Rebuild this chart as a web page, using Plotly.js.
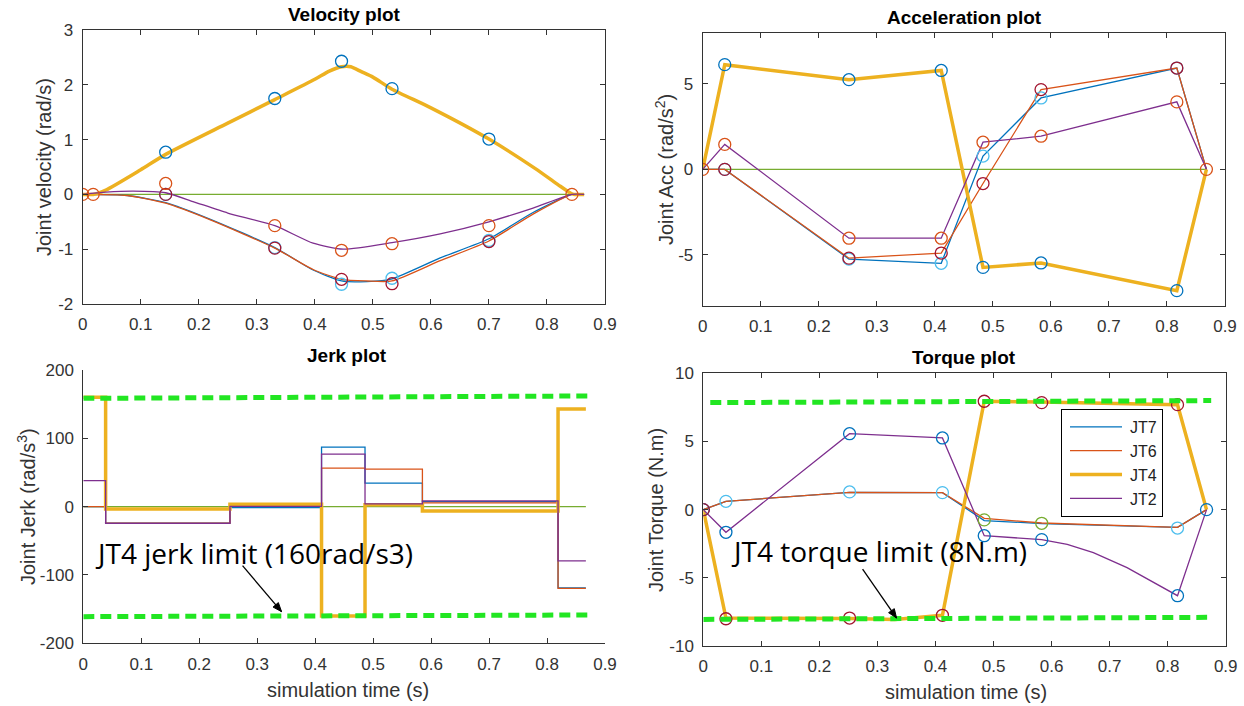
<!DOCTYPE html>
<html><head><meta charset="utf-8">
<script src="https://cdn.plot.ly/plotly-3.0.1.min.js"></script>
<style>html,body{margin:0;padding:0;background:#fff;}#chart{width:1244px;height:706px;}</style>
</head><body><div id="chart"></div>
<script>
// ---------------- DATA ----------------
// Velocity plot
const velT_JT4 = [0, 0.018, 0.04, 0.10, 0.143, 0.25, 0.331, 0.40, 0.425, 0.446, 0.462, 0.48, 0.50, 0.533, 0.60, 0.70, 0.78, 0.82, 0.838, 0.846, 0.864];
const velV_JT4 = [0, 0, 0.08, 0.45, 0.73, 1.30, 1.73, 2.10, 2.25, 2.33, 2.33, 2.24, 2.14, 1.92, 1.58, 1.01, 0.47, 0.17, 0.04, 0, 0];
const velT_JT2 = [0, 0.04, 0.087, 0.143, 0.19, 0.25, 0.331, 0.397, 0.449, 0.533, 0.616, 0.70, 0.776, 0.843, 0.864];
const velV_JT2 = [0, 0.04, 0.06, 0.03, -0.13, -0.34, -0.57, -0.89, -1.0, -0.88, -0.72, -0.50, -0.25, 0, 0];
const velT_J67 = [0, 0.077, 0.143, 0.219, 0.331, 0.397, 0.446, 0.49, 0.533, 0.616, 0.70, 0.776, 0.843, 0.864];
const velV_JT7 = [0, -0.02, -0.15, -0.45, -0.97, -1.38, -1.58, -1.59, -1.54, -1.16, -0.81, -0.33, 0, 0];
const velV_JT6 = [0, -0.02, -0.16, -0.46, -0.98, -1.37, -1.55, -1.58, -1.58, -1.21, -0.85, -0.36, 0, 0];
const velT_zero = [0, 0.864];
const velV_zero = [0, 0];
const velWpT_JT4 = [0.143, 0.331, 0.446, 0.533, 0.70];
const velWpV_JT4 = [0.77, 1.75, 2.43, 1.93, 1.01];
const velWpT_JT2 = [0, 0.018, 0.143, 0.331, 0.446, 0.533, 0.70, 0.843];
const velWpV_JT2 = [0, 0, 0.2, -0.57, -1.02, -0.90, -0.57, 0];
const velWpT_J67 = [0.143, 0.331, 0.446, 0.533, 0.70];
const velWpV_JT7 = [0, -0.97, -1.64, -1.53, -0.84];
const velWpV_JT6 = [0, -0.98, -1.55, -1.63, -0.86];

// Acceleration plot
const accT = [0, 0.038, 0.252, 0.411, 0.483, 0.583, 0.817, 0.868];
const accJT4 = [0, 6.13, 5.25, 5.79, -5.74, -5.48, -7.10, 0];
const accJT2 = [0, 1.46, -4.03, -4.03, 1.59, 1.94, 3.95, 0];
const accJT6 = [0, 0, -5.20, -4.90, -0.83, 4.67, 5.93, 0];
const accJT7 = [0, 0, -5.25, -5.50, 0.78, 4.18, 5.93, 0];
const accT_zero = [0, 0.868];
const accV_zero = [0, 0];

// Jerk plot (piecewise constant)
const jerkT = [0, 0.0385, 0.253, 0.411, 0.486, 0.585, 0.819, 0.867];
const jerkJT4 = [160, -3.5, 3.5, -160, 2.6, -6.5, 143, 143];
const jerkJT2 = [38, -24.5, 0.5, 77, 4, 8.5, -79.5, -79.5];
const jerkJT6 = [0, -24, 2, 56.5, 55, 5.5, -119.5, -119.5];
const jerkJT7 = [0, -24, -1.5, 87, 34.5, 7.5, -119, -119];
const jerkT_zero = [0, 0.867];
const jerkV_zero = [0, 0];
const jerkLimT = [0, 0.871];
const jerkLimUp = [158.5, 162];
const jerkLimLo = [-161, -158.6];

// Torque plot
const torqT = [0, 0.039, 0.252, 0.412, 0.484, 0.583, 0.817, 0.867];
const torqT_JT4 = [0, 0.039, 0.252, 0.33, 0.412, 0.484, 0.583, 0.817, 0.867];
const torqJT4 = [0, -7.95, -7.98, -8.05, -7.75, 7.95, 7.9, 7.7, 0];
const torqT_JT2 = [0, 0.039, 0.252, 0.412, 0.484, 0.583, 0.627, 0.672, 0.730, 0.787, 0.817, 0.867];
const torqJT2 = [0, -1.66, 5.57, 5.26, -1.91, -2.2, -2.55, -3.15, -4.25, -5.6, -6.31, 0];
const torqJT6 = [0, 0.61, 1.27, 1.25, -0.64, -0.98, -1.30, 0];
const torqJT7 = [0, 0.61, 1.27, 1.25, -0.80, -1.02, -1.30, 0];
const torqWpV_JT2 = [0, -1.66, 5.57, 5.26, -1.91, -2.2, -6.31, 0];
const torqWpT_JT7 = [0.039, 0.252, 0.412, 0.817];
const torqWpV_JT7 = [0.61, 1.3, 1.25, -1.35];
const torqWpT_grn = [0.484, 0.583];
const torqWpV_grn = [-0.75, -1.0];
const torqWpT_JT4 = [0, 0.039, 0.252, 0.412, 0.484, 0.583, 0.817];
const torqWpV_JT4 = [0, -8, -7.95, -7.75, 7.95, 7.85, 7.7];
const torqLimT_up = [0.012, 0.875];
const torqLimUp = [7.85, 8.0];
const torqLimT_lo = [0, 0.868];
const torqLimLo = [-8.05, -7.9];

// Tick labels
const xTicks = [0, 0.1, 0.2, 0.3, 0.4, 0.5, 0.6, 0.7, 0.8, 0.9];
const xTickText = ['0', '0.1', '0.2', '0.3', '0.4', '0.5', '0.6', '0.7', '0.8', '0.9'];
const velYTicks = [-2, -1, 0, 1, 2, 3];
const velYTickText = ['-2', '-1', '0', '1', '2', '3'];
const accYTicks = [-5, 0, 5];
const accYTickText = ['-5', '0', '5'];
const jerkYTicks = [-200, -100, 0, 100, 200];
const jerkYTickText = ['-200', '-100', '0', '100', '200'];
const torqYTicks = [-10, -5, 0, 5, 10];
const torqYTickText = ['-10', '-5', '0', '5', '10'];
const legendNames = ['JT7', 'JT6', 'JT4', 'JT2'];

// ---------------- STYLE ----------------
const C = {blue:'#0072BD', orange:'#D95319', yellow:'#EDB120', purple:'#7E2F8E', green:'#77AC30', lblue:'#4DBEEE', dred:'#A2142F', lim:'#22E622'};
const FONT = 'Liberation Sans, Arial, sans-serif';
const W = 1244, H = 706;

function ln(x, y, color, width, xa, ya, extra) {
  return Object.assign({x, y, xaxis: xa, yaxis: ya, mode: 'lines', type: 'scatter', line: {color, width}, showlegend: false, hoverinfo: 'skip'}, extra || {});
}
function mk(x, y, color, xa, ya) {
  return {x, y, xaxis: xa, yaxis: ya, mode: 'markers', type: 'scatter', showlegend: false, hoverinfo: 'skip',
    marker: {symbol: 'circle-open', size: 12, color, line: {color, width: 1.3}}};
}
function spl(x, y, color, width, xa, ya) {
  return ln(x, y, color, width, xa, ya, {line: {color, width, shape: 'spline', smoothing: 0.6}});
}
function stp(x, y, color, width, xa, ya) {
  return ln(x, y, color, width, xa, ya, {line: {color, width, shape: 'hv'}});
}
function lim(x, y, xa, ya) {
  return ln(x, y, C.lim, 5, xa, ya, {line: {color: C.lim, width: 5, dash: '11px,6px'}});
}

const traces = [
  // velocity
  ln(velT_zero, velV_zero, C.green, 1.3, 'x', 'y'),
  spl(velT_J67, velV_JT7, C.blue, 1.3, 'x', 'y'),
  spl(velT_J67, velV_JT6, C.orange, 1.3, 'x', 'y'),
  spl(velT_JT4, velV_JT4, C.yellow, 3.5, 'x', 'y'),
  spl(velT_JT2, velV_JT2, C.purple, 1.3, 'x', 'y'),
  mk(velWpT_J67, velWpV_JT7, C.lblue, 'x', 'y'),
  mk(velWpT_J67, velWpV_JT6, C.dred, 'x', 'y'),
  mk(velWpT_JT4, velWpV_JT4, C.blue, 'x', 'y'),
  mk(velWpT_JT2, velWpV_JT2, C.orange, 'x', 'y'),
  // acceleration
  ln(accT_zero, accV_zero, C.green, 1.3, 'x2', 'y2'),
  ln(accT, accJT7, C.blue, 1.3, 'x2', 'y2'),
  ln(accT, accJT6, C.orange, 1.3, 'x2', 'y2'),
  ln(accT, accJT4, C.yellow, 3.5, 'x2', 'y2'),
  ln(accT, accJT2, C.purple, 1.3, 'x2', 'y2'),
  mk(accT.slice(1, 7), accJT7.slice(1, 7), C.lblue, 'x2', 'y2'),
  mk(accT.slice(1, 7), accJT6.slice(1, 7), C.dred, 'x2', 'y2'),
  mk(accT.slice(1, 7), accJT4.slice(1, 7), C.blue, 'x2', 'y2'),
  mk(accT, accJT2, C.orange, 'x2', 'y2'),
  // jerk
  ln(jerkT_zero, jerkV_zero, C.green, 1.3, 'x3', 'y3'),
  stp(jerkT, jerkJT7, C.blue, 1.3, 'x3', 'y3'),
  stp(jerkT, jerkJT6, C.orange, 1.3, 'x3', 'y3'),
  stp(jerkT, jerkJT4, C.yellow, 3.5, 'x3', 'y3'),
  stp(jerkT, jerkJT2, C.purple, 1.3, 'x3', 'y3'),
  lim(jerkLimT, jerkLimUp, 'x3', 'y3'),
  lim(jerkLimT, jerkLimLo, 'x3', 'y3'),
  // torque
  ln(torqT, torqJT7, C.blue, 1.3, 'x4', 'y4', {name: legendNames[0], showlegend: true, legendgroup: 'a'}),
  ln(torqT, torqJT6, C.orange, 1.3, 'x4', 'y4', {name: legendNames[1], showlegend: true, legendgroup: 'b'}),
  ln(torqT_JT4, torqJT4, C.yellow, 3.5, 'x4', 'y4', {name: legendNames[2], showlegend: true, legendgroup: 'c'}),
  ln(torqT_JT2, torqJT2, C.purple, 1.3, 'x4', 'y4', {name: legendNames[3], showlegend: true, legendgroup: 'd'}),
  mk(torqWpT_JT7, torqWpV_JT7, C.lblue, 'x4', 'y4'),
  mk(torqWpT_grn, torqWpV_grn, C.green, 'x4', 'y4'),
  mk(torqT, torqWpV_JT2, C.blue, 'x4', 'y4'),
  mk(torqWpT_JT4, torqWpV_JT4, C.dred, 'x4', 'y4'),
  lim(torqLimT_up, torqLimUp, 'x4', 'y4'),
  lim(torqLimT_lo, torqLimLo, 'x4', 'y4')
];

function axis(d0, d1, range, tv, tt, mirror, anchor, standoff) {
  return {domain: [d0, d1], range, tickmode: 'array', tickvals: tv, ticktext: tt, ticks: 'inside', ticklen: 5, tickwidth: 1,
    tickcolor: '#333', showline: true, linecolor: '#333', linewidth: 1, mirror, showgrid: false, zeroline: false,
    anchor, fixedrange: true, ticklabelstandoff: standoff, tickfont: {family: FONT, size: 17, color: '#333'}};
}
const px = v => v / W, py = v => 1 - v / H;

function note(text, x, y, size, angle, color) {
  return {text, x: px(x), y: py(y), xref: 'paper', yref: 'paper', xanchor: 'center', yanchor: 'middle', showarrow: false,
    textangle: angle || 0, font: {family: FONT, size, color: color || '#333'}};
}

// arrows drawn as pixel-sized shapes anchored at the arrow tip
function arrowShapes(xa, ya, tipX, tipY, dx, dy, headPath) {
  return [
    {type: 'line', xref: xa, yref: ya, xsizemode: 'pixel', ysizemode: 'pixel', xanchor: tipX, yanchor: tipY,
      x0: dx, y0: dy, x1: 0, y1: 0, line: {color: '#000', width: 1.3}},
    {type: 'path', xref: xa, yref: ya, xsizemode: 'pixel', ysizemode: 'pixel', xanchor: tipX, yanchor: tipY,
      path: headPath, fillcolor: '#000', line: {color: '#000', width: 1}}
  ];
}

const layout = {
  width: W, height: H, margin: {l: 0, r: 0, t: 0, b: 0}, paper_bgcolor: '#fff', plot_bgcolor: '#fff',
  xaxis: axis(px(82.7), px(605), [0, 0.9], xTicks, xTickText, 'ticks', 'y', 5),
  yaxis: axis(py(304), py(30), [-2, 3], velYTicks, velYTickText, 'ticks', 'x', 5),
  xaxis2: axis(px(702.7), px(1225), [0, 0.9], xTicks, xTickText, 'ticks', 'y2', 5),
  yaxis2: axis(py(306), py(32.7), [-8, 8], accYTicks, accYTickText, 'ticks', 'x2', 5),
  xaxis3: axis(px(83.3), px(605), [0, 0.9], xTicks, xTickText, false, 'y3', 5),
  yaxis3: axis(py(643.3), py(370), [-200, 200], jerkYTicks, jerkYTickText, false, 'x3', 5),
  xaxis4: axis(px(703.3), px(1225.7), [0, 0.9], xTicks, xTickText, 'ticks', 'y4', 5),
  yaxis4: axis(py(646), py(373.3), [-10, 10], torqYTicks, torqYTickText, 'ticks', 'x4', 5),
  showlegend: true,
  legend: {x: px(1061), y: py(409), xanchor: 'left', yanchor: 'top', bgcolor: '#fff', bordercolor: '#000', borderwidth: 1,
    font: {family: FONT, size: 16, color: '#222'}, tracegroupgap: 0, itemwidth: 58},
  shapes: [].concat(
    arrowShapes('x3', 'y3', 0.342, -153.7, -39, 46, 'M0,0 L-8.5,4.6 L-3.2,9.1 Z'),
    arrowShapes('x4', 'y4', 0.333, -7.95, -34, 49, 'M0,0 L-8.0,5.4 L-2.3,9.4 Z')
  ),
  annotations: [
    note('<b>Velocity plot</b>', 344, 15, 19, 0, '#000'),
    note('<b>Acceleration plot</b>', 964, 17, 19, 0, '#000'),
    note('<b>Jerk plot</b>', 347, 355, 19, 0, '#000'),
    note('<b>Torque plot</b>', 964, 357, 19, 0, '#000'),
    note('Joint velocity (rad/s)', 44, 167, 20, -90),
    note('Joint Acc (rad/s<sup>2</sup>)', 664, 170, 20, -90),
    note('Joint Jerk (rad/s<sup>3</sup>)', 26, 507, 20, -90),
    note('Joint Torque (N.m)', 656, 510, 20, -90),
    note('simulation time (s)', 348, 690, 20),
    note('simulation time (s)', 966, 692, 20),
    {text: 'JT4 jerk limit (160rad/s3)', x: 0.017, y: -68, xref: 'x3', yref: 'y3', xanchor: 'left', yanchor: 'middle', showarrow: false, font: {family: 'Open Sans, sans-serif', size: 28, color: '#000'}},
    {text: 'JT4 torque limit (8N.m)', x: 0.045, y: -3.0, xref: 'x4', yref: 'y4', xanchor: 'left', yanchor: 'middle', showarrow: false, font: {family: 'Open Sans, sans-serif', size: 28, color: '#000'}}
  ]
};

Plotly.newPlot('chart', traces, layout, {staticPlot: true, displayModeBar: false}).then(gd => {
  // lengthen the legend line samples to MATLAB-like proportions
  gd.querySelectorAll('.legend .legendlines path').forEach(p => p.setAttribute('d', 'M8,0h52'));
  // drop empty placeholder text nodes
  gd.querySelectorAll('text').forEach(t => { if (!t.textContent.trim()) t.remove(); });
});
</script></body></html>
